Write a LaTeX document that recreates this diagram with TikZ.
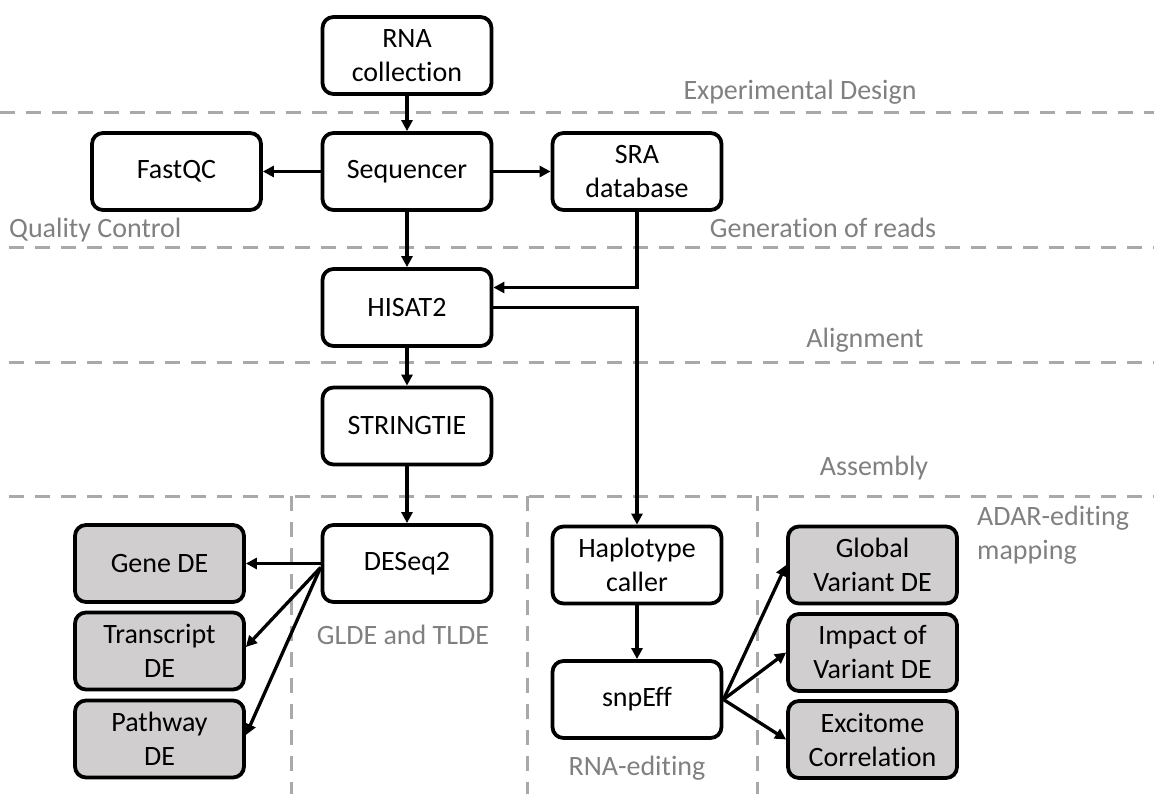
\documentclass[tikz,border=0pt]{standalone}
\usepackage{fontspec}
\setmainfont[Ligatures={NoCommon}]{Carlito}
\usetikzlibrary{arrows.meta,calc}
\definecolor{boxgray}{RGB}{208,206,206}
\definecolor{dashgray}{RGB}{170,168,168}
\definecolor{labgray}{RGB}{128,128,128}
\begin{document}
\begin{tikzpicture}[x=1pt,y=-1pt,
  every node/.style={font=\fontsize{28}{34}\selectfont},
  stepbox/.style={draw=black,line width=3.8pt,rounded corners=11pt,fill=white,
    minimum width=169pt,minimum height=77pt,align=center,inner sep=2pt},
  graybox/.style={stepbox,fill=boxgray},
  arr/.style={line width=3.3pt,-{Triangle[length=11pt,width=11pt]}},
  sep/.style={draw=dashgray,line width=3pt,dash pattern=on 15pt off 11pt},
  lab/.style={text=labgray,inner sep=0pt}]
\useasboundingbox (0,0) rectangle (1154,794);
% separators
\draw[sep] (0,113) -- (1154,113);
\draw[sep] (9,248) -- (1154,248);
\draw[sep] (9,362) -- (1154,362);
\draw[sep] (9,496) -- (1154,496);
\draw[sep] (291,496) -- (291,794);
\draw[sep] (527,496) -- (527,794);
\draw[sep] (757,496) -- (757,794);
% labels
\node[lab] (lexp) at (800,92) {Experimental Design};
\node[lab,anchor=west] (lqc) at (9,230) {Quality Control};
\node[lab] (lgen) at (823,228) {Generation of reads};
\node[lab] (lali) at (865,340) {Alignment};
\node[lab] (lass) at (874,468) {Assembly};
\node[lab] (lgl) at (403,635) {GLDE and TLDE};
\node[lab] (lrna) at (637,768) {RNA-editing};
\node[lab,anchor=west,align=left] (ladar) at (977,535) {ADAR-editing\\mapping};
% boxes
\node[stepbox] (rna) at (407,55.5) {RNA\\collection};
\node[stepbox] (seq) at (407,171.5) {Sequencer};
\node[stepbox] (fqc) at (176.5,171.5) {FastQC};
\node[stepbox] (sra) at (637,171.5) {SRA\\database};
\node[stepbox] (his) at (407,307.5) {HISAT2};
\node[stepbox] (str) at (407,426) {STRINGTIE};
\node[stepbox] (des) at (407,563.5) {DESeq2};
\node[graybox] (gene) at (159.5,563.5) {Gene DE};
\node[graybox] (tra) at (159.5,651) {Transcript\\DE};
\node[graybox] (pat) at (159.5,739) {Pathway\\DE};
\node[stepbox] (hap) at (637,565) {Haplotype\\caller};
\node[stepbox] (snp) at (637,699.5) {snpEff};
\node[graybox] (glo) at (872.5,565) {Global\\Variant DE};
\node[graybox] (imp) at (872.5,652.5) {Impact of\\Variant DE};
\node[graybox] (exc) at (872.5,739.5) {Excitome\\Correlation};
% connectors
\coordinate (hin) at ($(his.east)+(0,-20)$);
\coordinate (dso) at ($(des.west)+(0,4)$);
\draw[arr] (rna) -- (seq);
\draw[arr] (seq) -- (fqc);
\draw[arr] (seq) -- (sra);
\draw[arr] (seq) -- (his);
\draw[arr] (sra.south) |- (hin);
\draw[arr] (his.east) -| (hap.north);
\draw[arr] (his) -- (str);
\draw[arr] (str) -- (des);
\draw[arr] (des) -- (gene);
\draw[arr] (dso) -- ($(tra.east)+(0,-4)$);
\draw[arr] (dso) -- ($(pat.east)+(0,-4)$);
\draw[arr] (hap) -- (snp);
\draw[arr] (snp.east) -- (glo.west);
\draw[arr] (snp.east) -- (imp.west);
\draw[arr] (snp.east) -- (exc.west);
\end{tikzpicture}
\end{document}
